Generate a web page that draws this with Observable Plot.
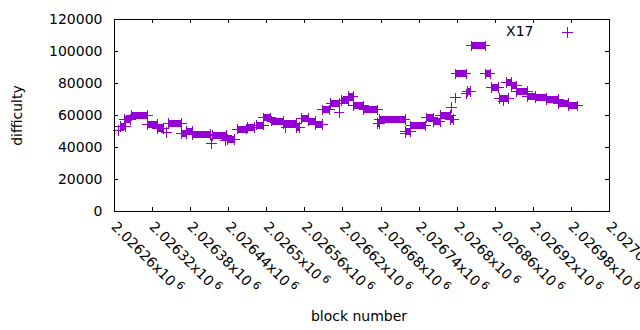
<!DOCTYPE html>
<html>
<head>
<meta charset="utf-8">
<script src="https://cdn.jsdelivr.net/npm/d3@7"></script>
<script src="https://cdn.jsdelivr.net/npm/@observablehq/plot@0.6"></script>
<style>
  html, body { margin: 0; padding: 0; background: #fff; }
  #chart { width: 640px; height: 330px; overflow: hidden; }
</style>
</head>
<body>
<div id="chart"></div>
<script>
// Runs of consecutive blocks with the same difficulty
const runStart = [2026269, 2026276, 2026287, 2026312, 2026328, 2026345, 2026366, 2026374, 2026383, 2026415,
  2026438, 2026454, 2026470, 2026483, 2026495, 2026508, 2026527, 2026546, 2026554, 2026565,
  2026577, 2026587, 2026601, 2026618, 2026628, 2026637, 2026653, 2026675, 2026678, 2026718,
  2026727, 2026751, 2026762, 2026773, 2026789, 2026798, 2026816, 2026822, 2026844, 2026854,
  2026866, 2026877, 2026885, 2026893, 2026911, 2026923, 2026941, 2026960, 2026975];
const runEnd = [2026277, 2026285, 2026312, 2026328, 2026337, 2026366, 2026374, 2026383, 2026412, 2026437,
  2026449, 2026468, 2026481, 2026495, 2026506, 2026527, 2026546, 2026552, 2026565, 2026576,
  2026588, 2026599, 2026614, 2026628, 2026636, 2026653, 2026675, 2026678, 2026718, 2026727,
  2026750, 2026762, 2026773, 2026789, 2026794, 2026814, 2026821, 2026844, 2026852, 2026865,
  2026881, 2026885, 2026893, 2026911, 2026923, 2026941, 2026960, 2026975, 2026990];
const runDifficulty = [53000, 57500, 60000, 54500, 52000, 55000, 48500, 50000, 48000, 47500,
  45000, 51500, 52500, 54000, 58500, 56500, 55000, 52500, 58000, 56500,
  54500, 63500, 67500, 69500, 72000, 66000, 63500, 55000, 57500, 50000,
  53500, 58500, 56000, 60000, 57500, 86000, 75000, 103500, 86000, 77500,
  70500, 80500, 78500, 75000, 72000, 71000, 70000, 67500, 66000];
// Isolated blocks
const singleBlock = [2026266, 2026342, 2026413, 2026435, 2026530, 2026614, 2026719, 2026791, 2026797, 2026814, 2026873];
const singleDifficulty = [50500, 49500, 42500, 44500, 52500, 62000, 49000, 65000, 71000, 73500, 69000];

const xTicks = [2026260, 2026320, 2026380, 2026440, 2026500, 2026560, 2026620, 2026680, 2026740, 2026800, 2026860, 2026920, 2026980, 2027040];
const yTicks = [0, 20000, 40000, 60000, 80000, 100000, 120000];
const seriesName = "X17";
const purple = "#9400d3";

const runs = runStart.map((s, i) => ({s, e: runEnd[i], d: runDifficulty[i]}));
const points = [
  ...runs.flatMap(r => [{b: r.s, d: r.d}, {b: r.e, d: r.d}]),
  ...singleBlock.map((b, i) => ({b, d: singleDifficulty[i]}))
];

const font = "'DejaVu Sans', sans-serif";

const chart = Plot.plot({
  width: 640,
  height: 330,
  marginLeft: 114,
  marginRight: 31,
  marginTop: 19,
  marginBottom: 119,
  style: {fontFamily: font, fontSize: "14px", background: "#fff", color: "#000"},
  x: {domain: [2026260, 2027040]},
  y: {domain: [0, 120000]},
  marks: [
    Plot.ruleY(runs, {y: "d", x1: "s", x2: "e", stroke: purple, strokeWidth: 7, shapeRendering: "crispEdges"}),
    Plot.dot(points, {x: "b", y: "d", symbol: "plus", r: 3.5, stroke: purple, strokeWidth: 1, shapeRendering: "crispEdges"}),
    Plot.frame({stroke: "#000", shapeRendering: "crispEdges"}),
    Plot.tickX(xTicks, {x: d => d, insetTop: 188, stroke: "#000", shapeRendering: "crispEdges"}),
    Plot.tickX(xTicks, {x: d => d, insetBottom: 188, stroke: "#000", shapeRendering: "crispEdges"}),
    Plot.tickY(yTicks, {y: d => d, insetRight: 491, stroke: "#000", shapeRendering: "crispEdges"}),
    Plot.tickY(yTicks, {y: d => d, insetLeft: 491, stroke: "#000", shapeRendering: "crispEdges"}),
    Plot.axisY({ticks: yTicks, tickSize: 0, tickPadding: 12, tickFormat: d => String(d), label: null, fontSize: 14}),
    Plot.axisX({ticks: xTicks, tickSize: 0, tickPadding: 9, tickRotate: 45, textAnchor: "start", lineAnchor: "top", dx: 3,
      tickFormat: d => String(+(d / 1e6).toFixed(5)) + "x10", label: null, fontSize: 14}),
    Plot.text([seriesName], {text: d => d, frameAnchor: "top-right", dx: -76, dy: 12, textAnchor: "end", lineAnchor: "middle", fontSize: 14}),
    Plot.dot([seriesName], {frameAnchor: "top-right", dx: -42, dy: 13, symbol: "plus", r: 3.5, stroke: purple, strokeWidth: 1, shapeRendering: "crispEdges"}),
    Plot.text(["difficulty"], {text: d => d, frameAnchor: "left", dx: -97, rotate: -90, textAnchor: "middle", lineAnchor: "middle", fontSize: 14}),
    Plot.text(["block number"], {text: d => d, frameAnchor: "bottom", dx: -3, dy: 105, textAnchor: "middle", lineAnchor: "middle", fontSize: 14})
  ]
});

// superscript exponent on the x tick labels
d3.select(chart).selectAll('g[aria-label="x-axis tick label"] text').each(function() {
  const t = this.textContent;
  const sel = d3.select(this);
  sel.text(null);
  sel.append("tspan").text(t);
  sel.append("tspan").attr("dx", 3).attr("dy", -5).attr("font-size", 11).text("6");
});

document.getElementById("chart").appendChild(chart);
</script>
</body>
</html>
